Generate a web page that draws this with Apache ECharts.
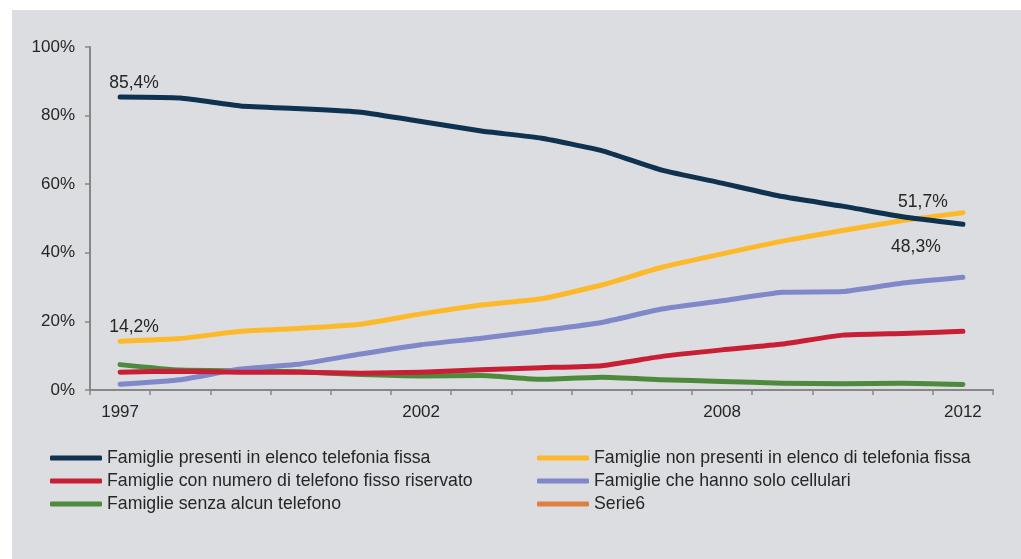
<!DOCTYPE html>
<html>
<head>
<meta charset="utf-8">
<script src="https://cdn.jsdelivr.net/npm/echarts@6/dist/echarts.min.js"></script>
<style>
  html, body { margin: 0; padding: 0; background: #ffffff; }
  #chart { position: absolute; left: 12px; top: 10px; width: 1009px; height: 549px; }
</style>
</head>
<body>
<div id="chart"></div>
<script>
// Survey years (2004 not surveyed)
const years = ['1997','1998','1999','2000','2001','2002','2003','2005','2006','2007','2008','2009','2010','2011','2012'];
// Years printed under the axis
const shownYears = ['1997','2002','2008','2012'];

// Share of households (%)
const presentiElenco    = [85.4, 85.1, 82.8, 82.0, 81.0, 78.3, 75.5, 73.4, 69.8, 64.1, 60.3, 56.4, 53.6, 50.5, 48.3];
const nonPresentiElenco = [14.2, 15.0, 17.1, 18.0, 19.2, 22.2, 24.8, 26.6, 30.6, 35.8, 39.7, 43.4, 46.5, 49.4, 51.7];
const numeroRiservato   = [5.2, 5.5, 5.2, 5.2, 4.9, 5.2, 5.9, 6.5, 7.1, 9.8, 11.7, 13.4, 16.0, 16.5, 17.1];
const soloCellulari     = [1.7, 3.0, 6.1, 7.6, 10.5, 13.2, 15.1, 17.3, 19.7, 23.6, 26.0, 28.5, 28.7, 31.2, 32.9];
const senzaTelefono     = [7.4, 5.8, 5.6, 5.3, 4.5, 4.1, 4.2, 3.1, 3.7, 3.0, 2.5, 2.0, 1.8, 2.0, 1.6];
const serie6            = [];

const names = [
  'Famiglie presenti in elenco telefonia fissa',
  'Famiglie non presenti in elenco di telefonia fissa',
  'Famiglie con numero di telefono fisso riservato',
  'Famiglie che hanno solo cellulari',
  'Famiglie senza alcun telefono',
  'Serie6'
];
const colors = ['#0e3250', '#fdb92a', '#c81f36', '#7f88c8', '#4e8a3c', '#df8040'];

const fmtPct = v => v.toFixed(1).replace('.', ',') + '%';
const txt = '#262626';
const font = 'Liberation Sans, Arial, sans-serif';

// Attach a value label to selected points of a series
function withLabels(values, labelled) {
  return values.map((v, i) => {
    const cfg = labelled[i];
    if (!cfg) return v;
    return {
      value: v,
      label: Object.assign({
        show: true,
        formatter: p => fmtPct(p.value),
        color: txt,
        fontSize: 17.5,
        fontFamily: font
      }, cfg)
    };
  });
}

const last = years.length - 1;

const seriesData = [
  withLabels(presentiElenco, {
    0: { position: 'top', distance: 4, offset: [14, 0] },
    [last]: { position: 'bottom', distance: 13, offset: [-47, 0] }
  }),
  withLabels(nonPresentiElenco, {
    0: { position: 'top', distance: 5, offset: [14, 0] },
    [last]: { position: 'top', distance: 1, offset: [-40, 0] }
  }),
  numeroRiservato,
  soloCellulari,
  senzaTelefono,
  serie6
];

const chart = echarts.init(document.getElementById('chart'), null, { renderer: 'canvas' });

const axisGray = '#878787';

const legendCommon = {
  orient: 'vertical',
  top: 434,
  icon: 'roundRect',
  itemWidth: 52,
  itemHeight: 5,
  itemGap: 5,
  selectedMode: false,
  textStyle: { color: txt, fontSize: 17.7, fontFamily: font, lineHeight: 17 }
};

chart.setOption({
  backgroundColor: '#dcdde0',
  animation: false,
  color: colors,
  textStyle: { fontFamily: font },
  grid: { left: 78, right: 28, top: 37, bottom: 169, containLabel: false },
  legend: [
    Object.assign({ left: 33, data: [names[0], names[2], names[4]] }, legendCommon),
    Object.assign({ left: 520, data: [names[1], names[3], names[5]] }, legendCommon)
  ],
  xAxis: {
    type: 'category',
    data: years,
    boundaryGap: true,
    axisLine: { lineStyle: { color: axisGray, width: 2 } },
    axisTick: { show: true, interval: 0, length: 5, lineStyle: { color: axisGray, width: 1.5 } },
    axisLabel: {
      interval: (idx, val) => shownYears.includes(val),
      color: txt,
      fontSize: 17,
      fontFamily: font,
      margin: 14
    },
    splitLine: { show: false }
  },
  yAxis: {
    type: 'value',
    min: 0,
    max: 100,
    interval: 20,
    axisLine: { show: true, lineStyle: { color: axisGray, width: 2 } },
    axisTick: { show: true, length: 5, lineStyle: { color: axisGray, width: 1.5 } },
    axisLabel: {
      formatter: '{value}%',
      color: txt,
      fontSize: 17,
      fontFamily: font,
      margin: 15
    },
    splitLine: { show: false }
  },
  series: names.map((name, i) => ({
    name: name,
    type: 'line',
    data: seriesData[i],
    showSymbol: true,
    symbol: 'circle',
    symbolSize: 1,
    smooth: 0.15,
    z: 10 - i,
    lineStyle: { width: 5, color: colors[i], cap: 'round', join: 'round' },
    itemStyle: { color: colors[i] },
    emphasis: { disabled: true }
  }))
});
</script>
</body>
</html>
